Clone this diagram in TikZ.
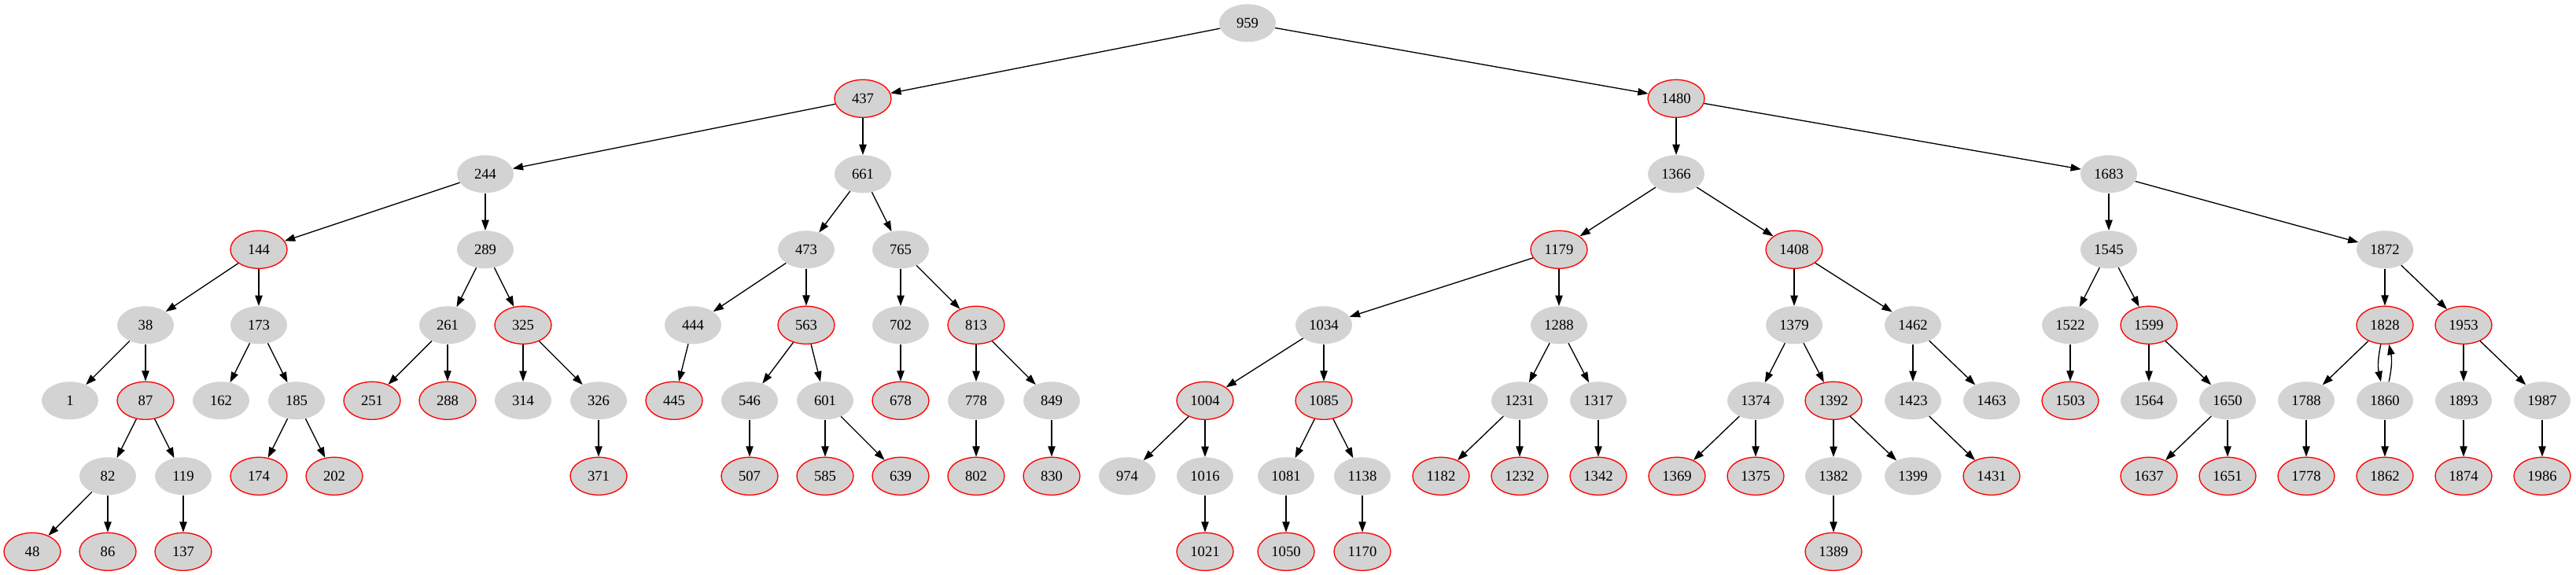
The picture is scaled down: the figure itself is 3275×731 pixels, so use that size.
\documentclass[tikz,border=0pt]{standalone}
\usepackage{fontspec}
\setmainfont{Liberation Serif}
\usetikzlibrary{shapes.geometric,arrows.meta}
\definecolor{gvgray}{HTML}{D3D3D3}
\begin{document}
\begin{tikzpicture}[x=0.75pt,y=-0.75pt,
  bn/.style={ellipse, fill=gvgray, minimum width=54pt, minimum height=36pt, inner sep=0pt, font=\fontsize{14pt}{16pt}\selectfont},
  rn/.style={bn, draw=red, line width=1pt},
  edge/.style={-{Triangle[length=10pt,width=7pt]}, line width=1pt}]
\useasboundingbox (0,0) rectangle (3275,731);
\def\La{29.3}\def\Lb{125.3}\def\Lc{221.3}\def\Ld{317.3}
\def\Le{413.3}\def\Lf{509.3}\def\Lg{605.3}\def\Lh{701.3}
% level 0
\node[bn] (n959) at (1586,\La) {959};
% level 1
\node[rn] (n437) at (1097,\Lb) {437};
\node[rn] (n1480) at (2131,\Lb) {1480};
% level 2
\node[bn] (n244) at (617,\Lc) {244};
\node[bn] (n661) at (1097,\Lc) {661};
\node[bn] (n1366) at (2131,\Lc) {1366};
\node[bn] (n1683) at (2681,\Lc) {1683};
% level 3
\node[rn] (n144) at (329,\Ld) {144};
\node[bn] (n289) at (617,\Ld) {289};
\node[bn] (n473) at (1025,\Ld) {473};
\node[bn] (n765) at (1145,\Ld) {765};
\node[rn] (n1179) at (1982,\Ld) {1179};
\node[rn] (n1408) at (2281,\Ld) {1408};
\node[bn] (n1545) at (2681,\Ld) {1545};
\node[bn] (n1872) at (3032,\Ld) {1872};
% level 4
\node[bn] (n38) at (185,\Le) {38};
\node[bn] (n173) at (329,\Le) {173};
\node[bn] (n261) at (569,\Le) {261};
\node[rn] (n325) at (665,\Le) {325};
\node[bn] (n444) at (881,\Le) {444};
\node[rn] (n563) at (1025,\Le) {563};
\node[bn] (n702) at (1145,\Le) {702};
\node[rn] (n813) at (1241,\Le) {813};
\node[bn] (n1034) at (1683,\Le) {1034};
\node[bn] (n1288) at (1982,\Le) {1288};
\node[bn] (n1379) at (2281,\Le) {1379};
\node[bn] (n1462) at (2432,\Le) {1462};
\node[bn] (n1522) at (2632,\Le) {1522};
\node[rn] (n1599) at (2732,\Le) {1599};
\node[rn] (n1828) at (3032,\Le) {1828};
\node[rn] (n1953) at (3132,\Le) {1953};
% level 5
\node[bn] (n1) at (89,\Lf) {1};
\node[rn] (n87) at (185,\Lf) {87};
\node[bn] (n162) at (281,\Lf) {162};
\node[bn] (n185) at (377,\Lf) {185};
\node[rn] (n251) at (473,\Lf) {251};
\node[rn] (n288) at (569,\Lf) {288};
\node[bn] (n314) at (665,\Lf) {314};
\node[bn] (n326) at (761,\Lf) {326};
\node[rn] (n445) at (857,\Lf) {445};
\node[bn] (n546) at (953,\Lf) {546};
\node[bn] (n601) at (1049,\Lf) {601};
\node[rn] (n678) at (1145,\Lf) {678};
\node[bn] (n778) at (1241,\Lf) {778};
\node[bn] (n849) at (1337,\Lf) {849};
\node[rn] (n1004) at (1532,\Lf) {1004};
\node[rn] (n1085) at (1683,\Lf) {1085};
\node[bn] (n1231) at (1932,\Lf) {1231};
\node[bn] (n1317) at (2032,\Lf) {1317};
\node[bn] (n1374) at (2232,\Lf) {1374};
\node[rn] (n1392) at (2331,\Lf) {1392};
\node[bn] (n1423) at (2432,\Lf) {1423};
\node[bn] (n1463) at (2532,\Lf) {1463};
\node[rn] (n1503) at (2632,\Lf) {1503};
\node[bn] (n1564) at (2732,\Lf) {1564};
\node[bn] (n1650) at (2832,\Lf) {1650};
\node[bn] (n1788) at (2932,\Lf) {1788};
\node[bn] (n1860) at (3032,\Lf) {1860};
\node[bn] (n1893) at (3132,\Lf) {1893};
\node[bn] (n1987) at (3232,\Lf) {1987};
% level 6
\node[bn] (n82) at (137,\Lg) {82};
\node[bn] (n119) at (233,\Lg) {119};
\node[rn] (n174) at (329,\Lg) {174};
\node[rn] (n202) at (425,\Lg) {202};
\node[rn] (n371) at (761,\Lg) {371};
\node[rn] (n507) at (953,\Lg) {507};
\node[rn] (n585) at (1049,\Lg) {585};
\node[rn] (n639) at (1145,\Lg) {639};
\node[rn] (n802) at (1241,\Lg) {802};
\node[rn] (n830) at (1337,\Lg) {830};
\node[bn] (n974) at (1433,\Lg) {974};
\node[bn] (n1016) at (1532,\Lg) {1016};
\node[bn] (n1081) at (1635,\Lg) {1081};
\node[bn] (n1138) at (1732,\Lg) {1138};
\node[rn] (n1182) at (1832,\Lg) {1182};
\node[rn] (n1232) at (1932,\Lg) {1232};
\node[rn] (n1342) at (2032,\Lg) {1342};
\node[rn] (n1369) at (2132,\Lg) {1369};
\node[rn] (n1375) at (2232,\Lg) {1375};
\node[bn] (n1382) at (2331,\Lg) {1382};
\node[bn] (n1399) at (2432,\Lg) {1399};
\node[rn] (n1431) at (2532,\Lg) {1431};
\node[rn] (n1637) at (2732,\Lg) {1637};
\node[rn] (n1651) at (2832,\Lg) {1651};
\node[rn] (n1778) at (2932,\Lg) {1778};
\node[rn] (n1862) at (3032,\Lg) {1862};
\node[rn] (n1874) at (3132,\Lg) {1874};
\node[rn] (n1986) at (3232,\Lg) {1986};
% level 7
\node[rn] (n48) at (41,\Lh) {48};
\node[rn] (n86) at (137,\Lh) {86};
\node[rn] (n137) at (233,\Lh) {137};
\node[rn] (n1021) at (1532,\Lh) {1021};
\node[rn] (n1050) at (1635,\Lh) {1050};
\node[rn] (n1170) at (1732,\Lh) {1170};
\node[rn] (n1389) at (2331,\Lh) {1389};
% edges
\foreach \a/\b in {959/437,959/1480,437/244,437/661,1480/1366,1480/1683,
  244/144,244/289,661/473,661/765,1366/1179,1366/1408,1683/1545,1683/1872,
  144/38,144/173,289/261,289/325,473/444,473/563,765/702,765/813,
  1179/1034,1179/1288,1408/1379,1408/1462,1545/1522,1545/1599,1872/1828,1872/1953,
  38/1,38/87,173/162,173/185,261/251,261/288,325/314,325/326,444/445,
  563/546,563/601,702/678,813/778,813/849,1034/1004,1034/1085,1288/1231,1288/1317,
  1379/1374,1379/1392,1462/1423,1462/1463,1522/1503,1599/1564,1599/1650,
  1828/1788,1953/1893,1953/1987,
  87/82,87/119,185/174,185/202,326/371,546/507,601/585,601/639,778/802,849/830,
  1004/974,1004/1016,1085/1081,1085/1138,1231/1182,1231/1232,1317/1342,
  1374/1369,1374/1375,1392/1382,1392/1399,1423/1431,1650/1637,1650/1651,
  1788/1778,1860/1862,1893/1874,1987/1986,
  82/48,82/86,119/137,1016/1021,1081/1050,1138/1170,1382/1389}
  {\draw[edge] (n\a) -- (n\b);}
\draw[edge] (n1828) to[bend right=12] (n1860);
\draw[edge] (n1860) to[bend right=12] (n1828);
\end{tikzpicture}
\end{document}
